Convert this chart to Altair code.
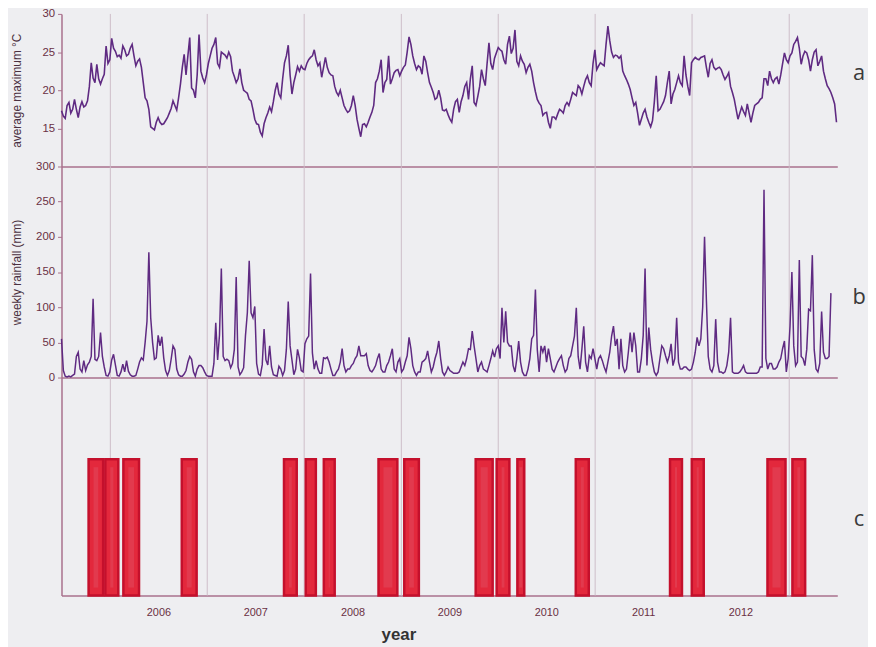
import altair as alt
import pandas as pd

START = "2005-07-01"

# weekly average maximum temperature (deg C), from 2005-07-01
temp_c = [
    17.3, 16.6, 16.3, 18.0, 18.4, 17.0, 17.5, 18.8, 17.5, 16.4,
    17.8, 18.5, 17.8, 18.0, 18.6, 20.5, 23.6, 21.6, 21.0, 23.4,
    21.5, 20.8, 21.5, 22.1, 25.8, 23.5, 24.0, 26.8, 25.5, 25.1,
    24.4, 24.6, 24.2, 25.8, 25.3, 24.5, 24.7, 25.5, 26.0, 24.5,
    23.2, 23.8, 24.1, 23.0, 21.0, 19.0, 18.6, 17.5, 15.2, 15.0,
    14.8, 15.8, 16.4, 15.8, 15.5, 15.6, 16.0, 16.4, 17.0, 17.6,
    18.6, 18.0, 17.4, 19.0, 20.8, 23.0, 24.7, 22.0, 24.5, 26.9,
    20.3, 20.0, 19.0, 22.0, 27.3, 22.5, 21.6, 21.0, 22.0, 23.5,
    24.5, 25.5, 26.0, 26.9, 23.5, 23.0, 25.0, 24.8, 24.6, 24.2,
    25.0, 24.4, 22.5, 21.8, 21.0, 21.5, 22.8, 21.0, 20.0, 19.8,
    19.6, 18.8, 18.6, 17.5, 16.2, 15.6, 15.5, 14.5, 14.0, 15.6,
    16.4, 17.0, 17.8, 17.2, 18.5, 20.0, 21.0, 19.5, 19.0, 21.5,
    23.6, 24.5, 25.9, 22.0, 19.5, 21.0, 22.0, 23.1, 22.5,
    23.2, 22.8, 22.7, 23.5, 24.0, 24.3, 24.5,
    25.3, 24.0, 23.2, 23.6, 21.7, 23.0, 24.3, 23.0, 22.3, 22.0,
    21.9, 20.5, 19.7, 19.3, 20.0, 19.0, 18.0, 17.5, 17.1, 17.3,
    18.0, 19.3, 18.0, 16.2, 15.0, 13.9, 15.5, 15.6, 15.2, 15.8,
    16.5, 17.1, 18.0, 21.0, 21.5, 22.5, 24.0, 19.7, 21.0, 21.4,
    24.5, 20.8, 21.5, 22.3, 22.6, 22.7, 21.9, 22.5, 23.0, 23.3,
    25.0, 27.0, 26.0, 24.5, 23.5, 22.7, 23.2, 23.0, 22.1, 24.5,
    23.8, 22.3, 21.0, 20.4, 19.7, 18.8, 19.0, 20.0, 19.0, 17.4,
    17.3, 17.5, 16.8, 16.2, 15.8, 17.5, 18.5, 18.8, 17.1, 18.5,
    19.3, 20.5, 21.0, 18.8, 21.5, 23.2, 18.4, 18.0, 19.2, 20.5,
    22.7, 21.5, 20.6, 23.5, 26.2, 23.5, 22.7, 24.2, 24.9, 25.6,
    25.3, 25.1, 24.0, 23.4, 26.0, 27.1, 24.8, 25.5, 27.9, 23.8,
    23.2, 24.5, 23.8, 23.4, 22.3, 23.0, 23.4, 22.5, 21.0, 19.8,
    18.8, 18.3, 18.0, 16.7, 17.0, 17.1, 15.8, 15.0, 16.5, 16.5,
    16.2, 16.9, 17.5, 17.3, 17.0, 18.0, 18.4, 18.0, 18.8, 19.7,
    19.5, 19.3, 20.6,
    20.3, 19.5, 20.5, 21.4, 21.9, 21.0, 20.6, 23.5, 25.3, 22.7,
    23.2, 23.6, 23.4, 23.2, 26.0, 28.4, 26.5, 25.0, 24.3, 24.6,
    24.5, 24.2, 24.5, 22.5, 21.9, 21.4, 20.8, 20.1, 19.0, 18.0,
    18.4, 17.0, 15.4, 16.2, 17.0, 17.5, 16.5, 15.8, 15.2, 16.0,
    18.5, 21.9, 17.3, 17.5, 18.0, 18.5, 19.3, 21.0, 22.5, 18.2,
    19.5, 20.1, 21.0, 21.9, 21.0, 20.6, 24.5, 22.0, 20.5, 19.3,
    23.6, 24.0, 24.3, 24.1, 24.0, 24.3, 24.4, 24.5, 23.0, 21.7,
    23.5, 24.0, 23.0, 22.7, 22.9, 23.0, 22.7, 22.0, 21.4, 21.8,
    22.3, 20.5, 19.7, 18.8, 17.5, 16.2, 17.0, 17.8, 17.2, 16.7,
    18.2, 17.0, 15.8, 17.0, 18.0, 18.2, 18.4, 18.8, 19.0, 21.5,
    21.5, 20.6, 22.5, 21.5, 21.0, 21.5, 21.7, 20.8, 22.0, 23.5,
    24.9, 24.0, 23.6, 24.5, 24.9, 26.0, 26.4, 26.9, 25.5, 23.4,
    24.5, 25.1, 24.9, 24.0, 22.5, 24.0, 25.0, 25.3, 23.2, 23.8,
    24.5, 22.5, 21.5, 20.6, 20.2, 19.7, 19.0, 18.2, 15.8,
]

# weekly rainfall (mm), from 2005-07-01
rain_mm = [
    55, 10, 2, 1, 2, 1, 3, 5, 30, 36,
    12, 8, 24, 10, 18, 22, 30, 112, 26, 24,
    30, 64, 30, 15, 3, 2, 8, 25, 33, 18,
    3, 2, 8, 19, 8, 24, 9, 4, 2, 2,
    3, 12, 22, 28, 25, 50, 80, 178, 85, 50,
    26, 28, 60, 45, 58, 28, 10, 3, 10, 26,
    45, 40, 12, 4, 2, 2, 5, 10, 22, 30,
    26, 8, 2, 12, 17, 17, 14, 8, 3, 2,
    2, 2, 20, 78, 25, 60, 155, 30, 24, 26,
    24, 14, 20, 40, 143, 15, 4, 8, 14, 60,
    92, 166, 92, 85, 101, 20, 5, 3, 18, 69,
    25, 18, 45, 15, 4, 3, 2, 16, 12, 3,
    10, 40, 108, 45, 25, 4, 12, 40, 28, 10,
    8, 48, 55, 59, 148, 35, 12, 24, 12, 6,
    6, 28, 27, 29, 22, 12, 3, 3, 8, 12,
    22, 41, 17, 8, 12, 12, 17, 20, 27, 31,
    45, 31, 31, 31, 34, 17, 10, 8, 12, 17,
    27, 34, 12, 8, 8, 17, 22, 31, 41, 12,
    8, 22, 27, 8, 12, 22, 31, 57, 41, 17,
    8, 3, 8, 8, 22, 24, 27, 38, 22, 8,
    15, 27, 36, 52, 27, 8, 3, 8, 15, 10,
    8, 6, 6, 6, 8, 15, 22, 17, 27, 41,
    40, 66, 45, 27, 8, 17, 22, 12, 10, 8,
    17, 27, 38, 29, 41, 45, 27, 99, 50, 94,
    50, 45, 45, 17, 8, 27, 52, 22, 8, 3,
    3, 12, 27, 55, 60, 125, 40, 8, 45, 36,
    45, 22, 41, 27, 12, 8, 15, 22, 27, 31,
    17, 8, 12, 27, 31, 45, 59, 99, 30, 12,
    40, 73, 22, 8, 31, 27, 41, 27, 12, 27,
    31, 24, 15, 8, 22, 36, 59, 73, 45, 55,
    12, 55, 17, 8, 12, 36, 64, 36, 64, 45,
    8, 8, 27, 60, 155, 17, 71, 40, 22, 8,
    3, 8, 27, 45, 41, 31, 22, 31, 48, 17,
    27, 85, 22, 12, 12, 15, 15, 12, 10, 12,
    22, 36, 57, 45, 55, 100, 200, 110, 30, 12,
    8, 17, 83, 22, 8, 8, 6, 8, 17, 36,
    85, 8, 6, 6, 6, 8, 12, 17, 8, 6,
    6, 6, 6, 6, 6, 8, 15, 15, 267, 27,
    12, 20, 20, 12, 12, 15, 22, 27, 41, 52,
    8, 27, 73, 150, 45, 17, 22, 167, 30, 27,
    17, 40, 97, 95, 174, 40, 12, 8, 20, 94,
    36, 27, 27, 30, 120,
]

# periods shown in panel c
bar_start = ["2005-10-11", "2005-12-13", "2006-02-19", "2006-09-27", "2007-10-17",
             "2008-01-07", "2008-03-15", "2008-10-07", "2009-01-12", "2009-10-08",
             "2009-12-26", "2010-03-14", "2010-10-20", "2011-10-10", "2011-12-31",
             "2012-10-11", "2013-01-13"]
bar_end = ["2005-12-05", "2006-01-31", "2006-04-19", "2006-11-22", "2007-12-04",
           "2008-02-14", "2008-04-25", "2008-12-17", "2009-03-08", "2009-12-11",
           "2010-02-12", "2010-04-09", "2010-12-08", "2011-11-24", "2012-02-14",
           "2012-12-18", "2013-03-02"]

year_lines = list(range(2006, 2014))
year_labels = list(range(2006, 2013))
panel_letters = ["a", "b", "c"]

# ---------------------------------------------------------------- tables
def weekly(n):
    return pd.date_range(START, periods=n, freq="7D").strftime("%Y-%m-%dT00:00:00")

df_t = pd.DataFrame({"date": weekly(len(temp_c)), "temp": temp_c})
df_r = pd.DataFrame({"date": weekly(len(rain_mm)), "rain": rain_mm})
df_b = pd.DataFrame({
    "start": [s + "T00:00:00" for s in bar_start],
    "end": [e + "T00:00:00" for e in bar_end],
    "top": [1] * len(bar_start),
    "base": [0] * len(bar_start),
})
df_y = pd.DataFrame({"date": [f"{y}-01-01T00:00:00" for y in year_lines]})

W = 783
AXC = "#a8708c"
LBC = "#6a3044"
LINEC = "#5f2a82"
GRIDC = "#cdbdc8"

xscale = alt.Scale(domain=[alt.DateTime(year=2005, month=7, date=1),
                           alt.DateTime(year=2013, month=7, date=1)])

axis_hidden = alt.Axis(labels=False, ticks=False, title=None, grid=False,
                       domainColor=AXC, domainWidth=1.5)
axis_bottom = alt.Axis(values=[alt.DateTime(year=y, month=7, date=1) for y in year_labels],
                       format="%Y", ticks=False, tickSize=0, labelPadding=11,
                       labelFontSize=11, labelColor=LBC, grid=False,
                       domainColor=AXC, domainWidth=1.5,
                       title="year", titleX=340, titleY=31, titleFontSize=17,
                       titleFontWeight="bold", titleColor="#333333")


def rules(axis):
    return alt.Chart(df_y).mark_rule(color=GRIDC, strokeWidth=1).encode(
        x=alt.X("date:T", scale=xscale, axis=axis)
    )


def letter(ch, ypos):
    return alt.Chart(pd.DataFrame({"t": [ch]})).mark_text(
        fontSize=22, font="Open Sans", color="#3a3a3a", align="center", baseline="middle"
    ).encode(text="t:N", x=alt.value(W + 22), y=alt.value(ypos))


def yaxis(vals, title):
    return alt.Axis(values=vals, title=title,
                    titleX=-38, titleFontSize=12, titleFontWeight="normal",
                    titleColor="#4a3040", labelFontSize=11.5, labelColor=LBC,
                    tickSize=4, tickColor=AXC, domainColor=AXC, domainWidth=1.5,
                    grid=False, labelPadding=3)


# panel a
line_a = alt.Chart(df_t).mark_line(color=LINEC, strokeWidth=1.6).encode(
    x=alt.X("date:T", scale=xscale, axis=axis_hidden),
    y=alt.Y("temp:Q", scale=alt.Scale(domain=[10, 30]),
            axis=yaxis([15, 20, 25, 30], "average maximum °C")),
)
panel_a = alt.layer(rules(axis_hidden), line_a, letter(panel_letters[0], 60)).properties(
    width=W, height=154)

# panel b
line_b = alt.Chart(df_r).mark_line(color=LINEC, strokeWidth=1.5).encode(
    x=alt.X("date:T", scale=xscale, axis=axis_hidden),
    y=alt.Y("rain:Q", scale=alt.Scale(domain=[0, 300]),
            axis=yaxis(list(range(0, 301, 50)), "weekly rainfall (mm)")),
)
panel_b = alt.layer(rules(axis_hidden), line_b, letter(panel_letters[1], 132)).properties(
    width=W, height=213)

# panel c
ycenc = alt.Y("top:Q", scale=alt.Scale(domain=[0, 1.6]),
              axis=alt.Axis(labels=False, ticks=False, title=None, grid=False,
                            domainColor=AXC, domainWidth=1.5))
bars = alt.Chart(df_b).mark_rect(color="#e3283c", stroke="#c4102c", strokeWidth=2.5).encode(
    x=alt.X("start:T", scale=xscale, axis=axis_bottom),
    x2="end:T",
    y=ycenc,
    y2="base:Q",
)
stripes = alt.Chart(df_b).mark_rect(
    color="#e0566a", opacity=0.4, xOffset=5, x2Offset=-5, yOffset=8, y2Offset=-8
).encode(
    x=alt.X("start:T", scale=xscale, axis=axis_bottom),
    x2="end:T",
    y=ycenc,
    y2="base:Q",
)
panel_c = alt.layer(rules(axis_bottom), bars, stripes, letter(panel_letters[2], 143)).properties(
    width=W, height=220)

chart = alt.VConcatChart(
    vconcat=[panel_a, panel_b, panel_c], spacing=0, bounds="flush"
).properties(
    padding={"left": 2, "top": -3, "right": 2, "bottom": 4},
    background="#eeeef1",
).configure_view(stroke=None).configure_axis(
    labelFont="Liberation Sans", titleFont="Liberation Sans"
)

chart.save("out.html", embed_options={"renderer": "svg", "actions": False})
